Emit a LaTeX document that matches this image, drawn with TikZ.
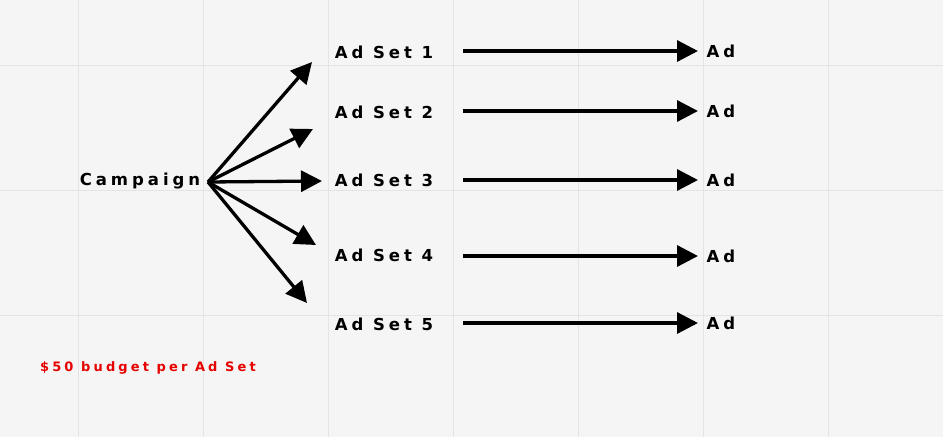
\documentclass[tikz,border=0pt]{standalone}
\usepackage{fontspec}
\usetikzlibrary{arrows.meta}
\newfontfamily\lsf[LetterSpace=24]{DejaVu Sans}
\begin{document}
\begin{tikzpicture}[x=1pt,y=-1pt,
  lab/.style={font=\lsf\bfseries\fontsize{16.5}{19}\selectfont,inner sep=0pt},
  arr/.style={line width=3.3pt,-{Triangle[length=21pt,width=21pt]}}]
\fill[fill={rgb,255:red,245;green,245;blue,245}] (0,0) rectangle (943,437);
\useasboundingbox (0,0) rectangle (943,437);
\foreach \x in {78,203,328,453,578,703,828} \draw[line width=1pt,color={rgb,255:red,228;green,228;blue,228}] (\x,0) -- (\x,437);
\foreach \y in {65,190,315} \draw[line width=1pt,color={rgb,255:red,228;green,228;blue,228}] (0,\y) -- (943,\y);
\node[lab] (c) at (140,181) {Campaign};
\coordinate (o) at (208,182);
\foreach \i/\y/\ex/\ey/\ay in {1/52/312/62/51,2/112/313/129/111,3/180/322/181/180,4/255/316/245/256,5/324/307/303/323}{
  \node[lab] (s\i) at (384,\y) {Ad Set \i};
  \coordinate (e\i) at (\ex,\ey);
  \draw[arr] (o) -- (e\i);
  \node[lab] (a\i) at (721,\ay) {Ad};
  \coordinate (p\i) at (463,\ay);
  \coordinate (q\i) at (698,\ay);
  \draw[arr] (p\i) -- (q\i);
}
\node[font=\lsf\bfseries\fontsize{13}{15}\selectfont,text={rgb,255:red,230;green,0;blue,0},inner sep=0pt] (b) at (148,368) {\$50 budget per Ad Set};
\end{tikzpicture}
\end{document}
